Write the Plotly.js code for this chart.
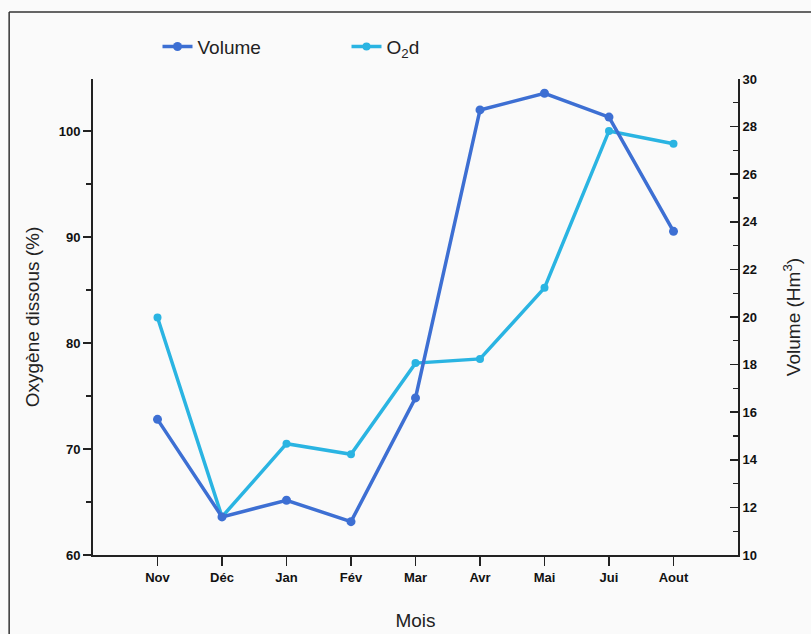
<!DOCTYPE html>
<html>
<head>
<meta charset="utf-8">
<script src="https://cdn.plot.ly/plotly-3.0.1.min.js"></script>
<style>html,body{margin:0;padding:0;background:#fafafa;}#chart{width:811px;height:634px;}</style>
</head>
<body>
<div id="chart"></div>
<script>
const months = ["Nov", "Déc", "Jan", "Fév", "Mar", "Avr", "Mai", "Jui", "Aout"];
const volume = [15.7, 11.6, 12.3, 11.4, 16.6, 28.7, 29.4, 28.4, 23.6];
const o2d = [82.4, 63.6, 70.5, 69.5, 78.1, 78.5, 85.2, 100.0, 98.8];
const leftTicks = [60, 70, 80, 90, 100];
const rightTicks = [10, 12, 14, 16, 18, 20, 22, 24, 26, 28, 30];

const xpos = months.map((m, i) => i);
const darkBlue = "#3d6fd3";
const lightBlue = "#2ab4e2";
const tickFont = {family: "Liberation Sans, Arial, sans-serif", size: 13, color: "#111", weight: "bold"};
const titleFont = {family: "Liberation Sans, Arial, sans-serif", size: 19, color: "#222"};

const traces = [
  {x: xpos, y: volume, name: "Volume", yaxis: "y2", type: "scatter", mode: "lines+markers",
   line: {color: darkBlue, width: 3.5}, marker: {color: darkBlue, size: 9}},
  {x: xpos, y: o2d, name: "O<sub>2</sub>d", yaxis: "y", type: "scatter", mode: "lines+markers",
   line: {color: lightBlue, width: 3.5}, marker: {color: lightBlue, size: 8}}
];

const layout = {
  width: 811, height: 634,
  margin: {l: 93, r: 73, t: 79, b: 79},
  paper_bgcolor: "#fafafa", plot_bgcolor: "#fafafa",
  showlegend: true,
  legend: {orientation: "h", x: 0.1, xanchor: "left", y: 1.068, yanchor: "middle",
    font: {family: "Liberation Sans, Arial, sans-serif", size: 19, color: "#222"},
    bgcolor: "rgba(0,0,0,0)", entrywidth: 144, entrywidthmode: "pixels", itemwidth: 30},
  xaxis: {range: [-1, 9], tickvals: xpos, ticktext: months, showgrid: false, zeroline: false,
    showline: true, linecolor: "#222", linewidth: 2, ticks: "outside", ticklen: 9, tickwidth: 1.5, tickcolor: "#222",
    tickfont: tickFont, title: {text: "Mois", font: titleFont, standoff: 30}},
  yaxis: {range: [60, 104.9], tickvals: leftTicks, showgrid: false, zeroline: false,
    showline: true, linecolor: "#222", linewidth: 2, ticks: "outside", ticklen: 8, tickwidth: 1.5, tickcolor: "#222",
    minor: {dtick: 5, tick0: 60, ticks: "outside", ticklen: 5, tickcolor: "#222", tickwidth: 1.2},
    tickfont: tickFont, title: {text: "Oxygène dissous (%)", font: titleFont, standoff: 14}},
  yaxis2: {range: [10, 30], tickvals: rightTicks, overlaying: "y", side: "right", showgrid: false, zeroline: false,
    showline: true, linecolor: "#222", linewidth: 2, ticks: "inside", ticklen: 8, tickwidth: 1.5, tickcolor: "#222",
    minor: {dtick: 1, tick0: 10, ticks: "inside", ticklen: 5, tickcolor: "#222", tickwidth: 1.2},
    tickfont: tickFont, title: {text: "Volume (Hm<sup>3</sup>)", font: titleFont, standoff: 30}},
  shapes: [
    {type: "line", xref: "paper", yref: "paper", x0: -0.130, x1: 1.12, y0: 1.1408, y1: 1.1408,
     line: {color: "#333", width: 1.5}},
    {type: "line", xref: "paper", yref: "paper", x0: -0.130, x1: -0.130, y0: 1.1408, y1: -0.17,
     line: {color: "#333", width: 1.5}}
  ]
};

Plotly.newPlot("chart", traces, layout, {displayModeBar: false, staticPlot: true});
</script>
</body>
</html>
